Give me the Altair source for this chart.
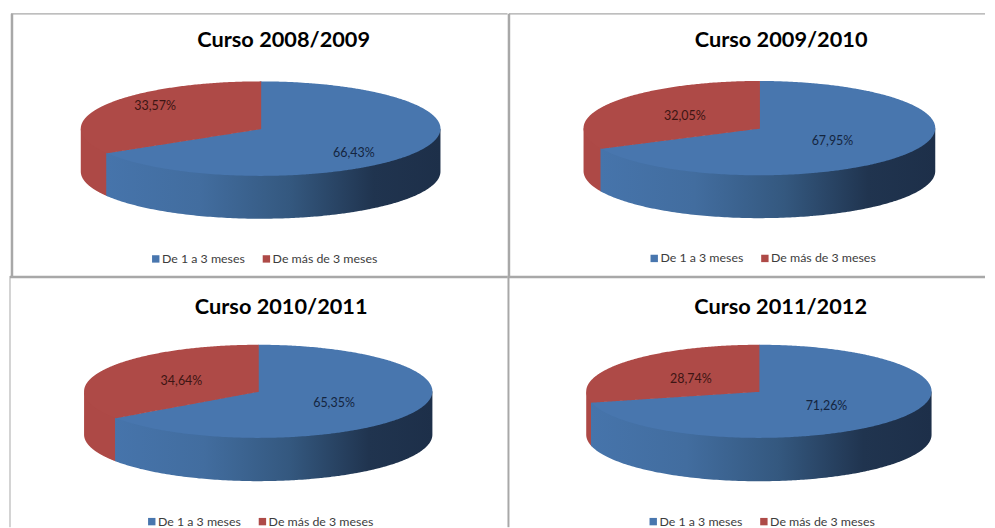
import math
import altair as alt
import pandas as pd

SERIES = ["De 1 a 3 meses", "De más de 3 meses"]
COURSES = ["Curso 2008/2009", "Curso 2009/2010", "Curso 2010/2011", "Curso 2011/2012"]
SHORT_STAY = [66.43, 67.95, 65.35, 71.26]
LONG_STAY = [33.57, 32.05, 34.64, 28.74]
LABEL_SHORT = ["66,43%", "67,95%", "65,35%", "71,26%"]
LABEL_LONG = ["33,57%", "32,05%", "34,64%", "28,74%"]

BLUE, RED = "#4876ae", "#ae4a47"
FONT = "Lato"
GRAY = "#a8a8a8"

# panel layout, in page pixels (panels stop short of the window edge so the page does not overflow)
LAYOUT = [
    dict(x0=8, y0=8, w=500, h=268, cx=260.4, cy=128.2, rx=180.4, ry=47.4, d=43.0, tx=283.5, ty=43,
         short=(354, 153), long=(154.5, 105.5), lx=150, ly=260.5),
    dict(x0=507, y0=8, w=479, h=268, cx=759.7, cy=127.7, rx=176.4, ry=47.3, d=43.0, tx=781.5, ty=43,
         short=(833, 140.7), long=(685, 115.7), lx=649, ly=260),
    dict(x0=8, y0=276, w=500, h=252, cx=258.0, cy=391.7, rx=174.7, ry=46.7, d=43.4, tx=281, ty=311,
         short=(334, 403), long=(181, 381.7), lx=146, ly=524),
    dict(x0=507, y0=276, w=479, h=252, cx=759.2, cy=391.7, rx=173.2, ry=46.7, d=43.5, tx=781, ty=312,
         short=(827, 406.7), long=(691, 379), lx=648, ly=524),
]
# frame lines: (x1, y1, x2, y2, width) in panel pixels
FRAMES = [
    [(2, 5, 500, 5, 1.2), (3, 5, 3, 268, 2.5)],
    [(1.5, 5, 479, 5, 1.2), (1.5, 5, 1.5, 268, 2.5)],
    [(1, 1, 500, 1, 2.5), (1, 0, 1, 252, 1)],
    [(0, 1, 479, 1, 2.5), (1, 0, 1, 252, 2)],
]


def sweep(a, b, n=160):
    return [a + (b - a) * i / n for i in range(n + 1)]


def panel(i):
    L = LAYOUT[i]
    tb = math.radians(360 * SHORT_STAY[i] / (SHORT_STAY[i] + LONG_STAY[i]))
    xb, yb = math.sin(tb), math.cos(tb)
    depth = L["d"] / L["ry"]

    xdom = [(L["x0"] - L["cx"]) / L["rx"], (L["x0"] + L["w"] - L["cx"]) / L["rx"]]
    ydom = [(L["cy"] - L["y0"] - L["h"]) / L["ry"], (L["cy"] - L["y0"]) / L["ry"]]
    X = alt.X("x:Q", axis=None, scale=alt.Scale(domain=xdom, nice=False, zero=False))
    Y = alt.Y("y:Q", axis=None, scale=alt.Scale(domain=ydom, nice=False, zero=False))

    arc_blue_front = sweep(math.radians(90), tb)
    arc_blue_right = sweep(0, math.radians(90), 80)
    arc_red_front = sweep(tb, math.radians(270))
    arc_red_top = sweep(math.radians(270), math.radians(360))

    def ell(x):
        return math.sqrt(max(0.0, 1 - x * x))

    xs_blue = sorted({math.sin(t) for t in arc_blue_front if math.sin(t) >= xb} |
                     {math.sin(t) for t in arc_blue_right} | {xb, 0.0})
    xs_red = sorted({math.sin(t) for t in arc_red_front} | {math.sin(t) for t in arc_red_top} | {xb, 0.0})
    xs_red = [x for x in xs_red if x <= 0]
    xs_blue = [x for x in xs_blue if x >= xb]

    # the faces overlap by under a pixel so that no pale seam shows between them
    top_rows = []
    for x in xs_blue:
        up = yb * x / xb if x < 0 else ell(x)
        top_rows.append(dict(x=x, y=up, y2=-ell(x), serie=SERIES[0]))
    for x in xs_red + [0.003]:
        low = -ell(x) if x < xb else max(yb * x / xb - 0.012, -ell(x))
        top_rows.append(dict(x=x, y=ell(x), y2=low, serie=SERIES[1]))
    top = pd.DataFrame(top_rows)

    def wall(xs):
        return pd.DataFrame([dict(x=x, y=-ell(x) + min(0.06, ell(x)), y2=-ell(x) - depth) for x in xs])

    side_blue = wall(xs_blue)
    side_red = wall([x for x in xs_red if x <= xb] + [xb + 0.006])

    blue_grad = alt.Gradient(
        gradient="linear", x1=0, x2=1, y1=0, y2=0,
        stops=[alt.GradientStop(offset=0, color="#4674ab"),
               alt.GradientStop(offset=0.28, color="#426d9f"),
               alt.GradientStop(offset=0.55, color="#34587f"),
               alt.GradientStop(offset=0.8, color="#20344f"),
               alt.GradientStop(offset=1, color="#1d2f49")])

    layers = []
    layers.append(alt.Chart(side_red).mark_area(color="#ad4946").encode(x=X, y=Y, y2="y2:Q"))
    layers.append(alt.Chart(side_blue).mark_area(color=blue_grad).encode(x=X, y=Y, y2="y2:Q"))
    layers.append(
        alt.Chart(top).mark_area(interpolate="linear").encode(
            x=X, y=Y, y2="y2:Q",
            color=alt.Color(
                "serie:N",
                scale=alt.Scale(domain=SERIES, range=[BLUE, RED]),
                legend=alt.Legend(
                    orient="none", legendX=L["lx"] - L["x0"] - 1, legendY=L["ly"] - L["y0"] - 8,
                    direction="horizontal", columns=2, title=None,
                    symbolType="square", symbolSize=55, symbolStrokeWidth=0,
                    labelFont=FONT, labelFontSize=12.4, labelColor="#3c3c3c",
                    labelOffset=0, columnPadding=15,
                ),
            ),
        )
    )

    labels = pd.DataFrame([
        dict(x=(L["short"][0] - L["cx"]) / L["rx"], y=(L["cy"] - L["short"][1]) / L["ry"],
             t=LABEL_SHORT[i], c="#14253f"),
        dict(x=(L["long"][0] - L["cx"]) / L["rx"], y=(L["cy"] - L["long"][1]) / L["ry"],
             t=LABEL_LONG[i], c="#3d1513"),
    ])
    layers.append(
        alt.Chart(labels).mark_text(font=FONT, fontSize=12.5, baseline="middle", align="center").encode(
            x=X, y=Y, text="t:N", color=alt.Color("c:N", scale=None, legend=None)
        )
    )

    for (x1, y1, x2, y2, sw) in FRAMES[i]:
        layers.append(
            alt.Chart(pd.DataFrame({"k": [0]})).mark_rule(color=GRAY, strokeWidth=sw).encode(
                x=alt.value(x1), x2=alt.value(x2), y=alt.value(y1), y2=alt.value(y2)
            )
        )

    return alt.layer(*layers).resolve_scale(color="independent").properties(
        width=L["w"], height=L["h"],
        title=alt.TitleParams(
            COURSES[i], anchor="middle", frame="group", orient="top",
            font=FONT, fontSize=21.8, fontWeight="bold", color="#000000",
            dx=L["tx"] - L["x0"] - L["w"] / 2,
            offset=-(L["ty"] - L["y0"] + 8),
        ),
    )


chart = (
    alt.concat(panel(0), panel(1), panel(2), panel(3), columns=2, spacing=0, bounds="flush")
    .properties(padding=0, background="white")
    .configure_view(stroke=None)
)
chart.save("out.html", embed_options={"renderer": "svg", "actions": False})
